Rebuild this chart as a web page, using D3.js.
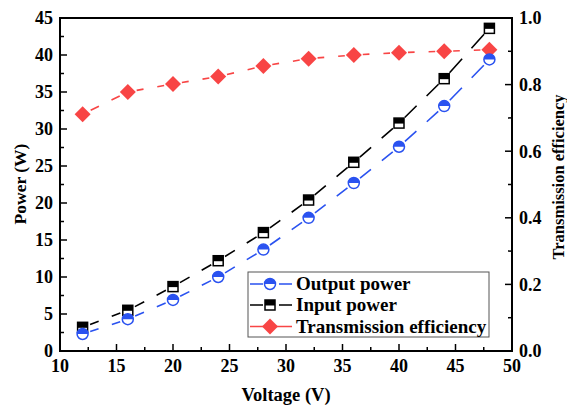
<!DOCTYPE html>
<html><head><meta charset="utf-8">
<script src="https://cdn.jsdelivr.net/npm/d3@7/dist/d3.min.js"></script>
<style>
html,body{margin:0;padding:0;background:#fff;}
text{font-family:"Liberation Serif","Times New Roman",serif;font-weight:bold;fill:#000;}
</style></head>
<body><svg id="c" width="567" height="408"></svg>
<script>
const voltage = [12,16,20,24,28,32,36,40,44,48];
const outputPower = [2.3,4.3,6.9,10.0,13.7,18.0,22.7,27.6,33.1,39.4];
const inputPower = [3.2,5.5,8.7,12.2,16.0,20.4,25.5,30.8,36.8,43.6];
const efficiency = [0.711,0.778,0.802,0.824,0.856,0.878,0.889,0.896,0.900,0.905];
const xTicks = [10,15,20,25,30,35,40,45,50];
const yTicks = [0,5,10,15,20,25,30,35,40,45];
const y2Ticks = [0.0,0.2,0.4,0.6,0.8,1.0];
const legendLabels = ["Output power","Input power","Transmission efficiency"];

const BLUE="#2a52f0", RED="#f84545", BLACK="#000";
const svg=d3.select("#c");
const L=60,R=512,T=18,B=351;
const x=d3.scaleLinear().domain([10,50]).range([L,R]);
const y=d3.scaleLinear().domain([0,45]).range([B,T]);
const y2=d3.scaleLinear().domain([0,1]).range([B,T]);

// ticks (inward)
const g=svg.append("g");
function tickLines(vals, fn){ vals.forEach(v=>{const a=fn(v); g.append("line").attr("x1",a[0]).attr("y1",a[1]).attr("x2",a[2]).attr("y2",a[3]).attr("stroke","#000").attr("stroke-width",1.5);}); }
const xMinor=d3.range(12.5,50,5), yMinor=d3.range(2.5,45,5), y2Minor=d3.range(0.1,1,0.2);
tickLines(xTicks,v=>[x(v),B,x(v),B-7]);
tickLines(xMinor,v=>[x(v),B,x(v),B-4]);
tickLines(yTicks,v=>[L,y(v),L+7,y(v)]);
tickLines(yMinor,v=>[L,y(v),L+4,y(v)]);
tickLines(y2Ticks,v=>[R,y2(v),R-7,y2(v)]);
tickLines(y2Minor,v=>[R,y2(v),R-4,y2(v)]);

// frame
g.append("rect").attr("x",L).attr("y",T).attr("width",R-L).attr("height",B-T).attr("fill","none").attr("stroke","#000").attr("stroke-width",2);

// tick labels
xTicks.forEach(v=>g.append("text").attr("x",x(v)).attr("y",372).attr("text-anchor","middle").attr("font-size",18).text(v));
yTicks.forEach(v=>g.append("text").attr("x",53).attr("y",y(v)).attr("dy","0.35em").attr("text-anchor","end").attr("font-size",18).text(v));
y2Ticks.forEach(v=>g.append("text").attr("x",519).attr("y",y2(v)).attr("dy","0.35em").attr("text-anchor","start").attr("font-size",18).text(v.toFixed(1)));

// axis titles
svg.append("text").attr("x",(L+R)/2).attr("y",401).attr("text-anchor","middle").attr("font-size",18.5).text("Voltage (V)");
svg.append("text").attr("transform","translate(26,184) rotate(-90)").attr("text-anchor","middle").attr("font-size",17.5).text("Power (W)");
svg.append("text").attr("transform","translate(564,177) rotate(-90)").attr("text-anchor","middle").attr("font-size",16.5).text("Transmission efficiency");

// connecting segments with gaps
function segs(xs, ys, sx, sy, color, clear){
  for(let i=0;i<xs.length-1;i++){
    const x1=sx(xs[i]),y1=sy(ys[i]),x2=sx(xs[i+1]),y2_=sy(ys[i+1]);
    const len=Math.hypot(x2-x1,y2_-y1);
    const gap=14;
    const d=Math.max(0,(len-2*clear-gap)/2);
    svg.append("line").attr("x1",x1).attr("y1",y1).attr("x2",x2).attr("y2",y2_)
      .attr("stroke",color).attr("stroke-width",1.6)
      .attr("stroke-dasharray",`0,${clear},${d},${gap},${d},${clear}`);
  }
}
segs(voltage,efficiency,x,y2,RED,9);
segs(voltage,inputPower,x,y,BLACK,8);
segs(voltage,outputPower,x,y,BLUE,8);

// markers
function circleMark(cx,cy){
  const r=5.5;
  svg.append("circle").attr("cx",cx).attr("cy",cy).attr("r",r).attr("fill","#fff").attr("stroke",BLUE).attr("stroke-width",1.5);
  svg.append("path").attr("d",`M${cx-r},${cy} A${r},${r} 0 0 1 ${cx+r},${cy} Z`).attr("fill",BLUE);
}
function squareMark(cx,cy){
  const s=5;
  svg.append("rect").attr("x",cx-s).attr("y",cy-s).attr("width",2*s).attr("height",2*s).attr("fill","#fff").attr("stroke",BLACK).attr("stroke-width",1.5);
  svg.append("rect").attr("x",cx-s).attr("y",cy-s).attr("width",2*s).attr("height",s+0.5).attr("fill",BLACK);
}
function diamondMark(cx,cy){
  const s=8;
  svg.append("path").attr("d",`M${cx},${cy-s} L${cx+s},${cy} L${cx},${cy+s} L${cx-s},${cy} Z`).attr("fill",RED);
}
voltage.forEach((v,i)=>diamondMark(x(v),y2(efficiency[i])));
voltage.forEach((v,i)=>squareMark(x(v),y(inputPower[i])));
voltage.forEach((v,i)=>circleMark(x(v),y(outputPower[i])));

// legend
svg.append("rect").attr("x",248).attr("y",272).attr("width",241).attr("height",65).attr("fill","#fff").attr("stroke","#555").attr("stroke-width",1);
const rows=[284,305,326.5], cols=[BLUE,BLACK,RED], marks=[circleMark,squareMark,diamondMark];
rows.forEach((ry,i)=>{
  svg.append("line").attr("x1",250).attr("x2",292).attr("y1",ry).attr("y2",ry).attr("stroke",cols[i]).attr("stroke-width",1.6)
    .attr("stroke-dasharray", i<2?"13,16,13":"42");
  marks[i](270,ry);
  svg.append("text").attr("x",296).attr("y",ry).attr("dy","0.33em").attr("font-size",19).text(legendLabels[i]);
});
</script></body></html>
